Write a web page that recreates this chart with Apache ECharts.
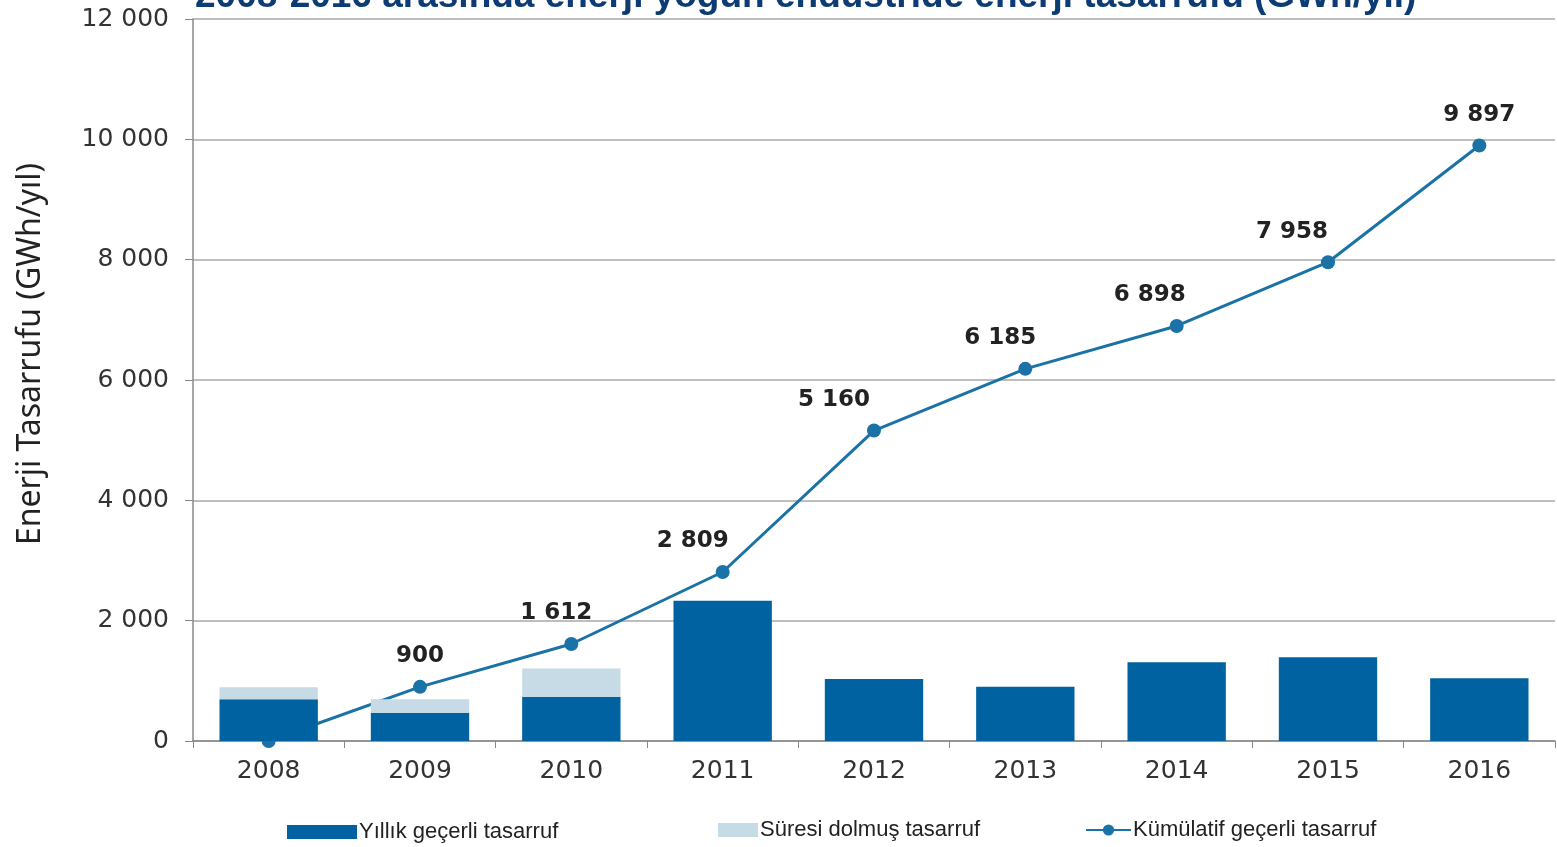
<!DOCTYPE html>
<html>
<head>
<meta charset="utf-8">
<script src="https://cdn.jsdelivr.net/npm/echarts@6/dist/echarts.min.js"></script>
<style>
  html, body { margin: 0; padding: 0; background: #fff; }
  #chart { width: 1557px; height: 847px; }
</style>
</head>
<body>
<div id="chart"></div>
<script>
var years = ['2008', '2009', '2010', '2011', '2012', '2013', '2014', '2015', '2016'];
var yillik = [693, 470, 736, 2330, 1030, 902, 1308, 1391, 1042];
var suresiDolmus = [200, 225, 470, null, null, null, null, null, null];
var kumulatif = [0, 900, 1612, 2809, 5160, 6185, 6898, 7958, 9897];
var yTicks = [0, 2000, 4000, 6000, 8000, 10000, 12000];

function fmt(v) {
    return String(v).replace(/\B(?=(\d{3})+(?!\d))/g, ' ');
}

// small nudges so the value labels sit where the source puts them
var labelShift = [0, 0, -15, -30, -40, -25, -27, -36, 0];

var legendText = { fontSize: 22, color: '#222', fontFamily: 'Liberation Sans', padding: [0, 0, 0, -3] };

var chart = echarts.init(document.getElementById('chart'));
chart.setOption({
    animation: false,
    title: {
        text: '2008-2016 arasında enerji yoğun endüstride enerji tasarrufu (GWh/yıl)',
        left: 190,
        top: -27,
        textStyle: {
            color: '#0d3c75',
            fontSize: 37,
            fontWeight: 'bold',
            fontFamily: 'Liberation Sans'
        }
    },
    grid: {
        left: 193,
        right: 2,
        top: 19,
        bottom: 106
    },
    legend: [
        {
            left: 282, top: 816, icon: 'rect',
            itemWidth: 70, itemHeight: 14,
            textStyle: legendText,
            data: ['Yıllık geçerli tasarruf']
        },
        {
            left: 713, top: 814, icon: 'rect',
            itemWidth: 40, itemHeight: 14,
            textStyle: legendText,
            data: ['Süresi dolmuş tasarruf']
        },
        {
            left: 1080, top: 814,
            itemWidth: 45, itemHeight: 14,
            textStyle: legendText,
            data: ['Kümülatif geçerli tasarruf']
        }
    ],
    xAxis: {
        type: 'category',
        data: years,
        axisLine: { lineStyle: { color: '#888', width: 1.5 } },
        axisTick: { show: true, length: 7, lineStyle: { color: '#888' } },
        axisLabel: { fontSize: 25, color: '#333', margin: 18, fontFamily: 'DejaVu Sans' }
    },
    yAxis: {
        type: 'value',
        min: 0,
        max: 12000,
        interval: 2000,
        name: 'Enerji Tasarrufu (GWh/yıl)',
        nameLocation: 'middle',
        nameGap: 146,
        nameTextStyle: { fontSize: 32, color: '#222', fontFamily: 'Noto Sans', padding: [0, 0, 0, 52] },
        axisLine: { show: true, lineStyle: { color: '#888', width: 1.5 } },
        axisTick: { show: true, length: 8, lineStyle: { color: '#888' } },
        splitLine: { lineStyle: { color: '#a8a8a8', width: 1.5 } },
        axisLabel: {
            fontSize: 25,
            color: '#333',
            margin: 24,
            fontFamily: 'DejaVu Sans',
            formatter: function (v) { return yTicks.indexOf(v) >= 0 ? fmt(v) : ''; }
        }
    },
    series: [
        {
            name: 'Kümülatif geçerli tasarruf',
            type: 'line',
            z: 1,
            data: kumulatif.map(function (v, i) {
                return {
                    value: v,
                    label: { show: i > 0, offset: [labelShift[i], 0] }
                };
            }),
            symbol: 'circle',
            symbolSize: 14,
            lineStyle: { color: '#1a72a6', width: 3 },
            itemStyle: { color: '#1a72a6' },
            label: {
                position: 'top',
                distance: 12,
                fontSize: 23,
                fontWeight: 'bold',
                color: '#222',
                fontFamily: 'DejaVu Sans',
                formatter: function (p) { return fmt(p.value); }
            }
        },
        {
            name: 'Yıllık geçerli tasarruf',
            type: 'bar',
            stack: 'tasarruf',
            z: 3,
            barWidth: '65%',
            data: yillik,
            itemStyle: { color: '#0062a0' }
        },
        {
            name: 'Süresi dolmuş tasarruf',
            type: 'bar',
            stack: 'tasarruf',
            z: 3,
            data: suresiDolmus,
            itemStyle: { color: '#c6dbe6' }
        }
    ]
});
</script>
</body>
</html>
